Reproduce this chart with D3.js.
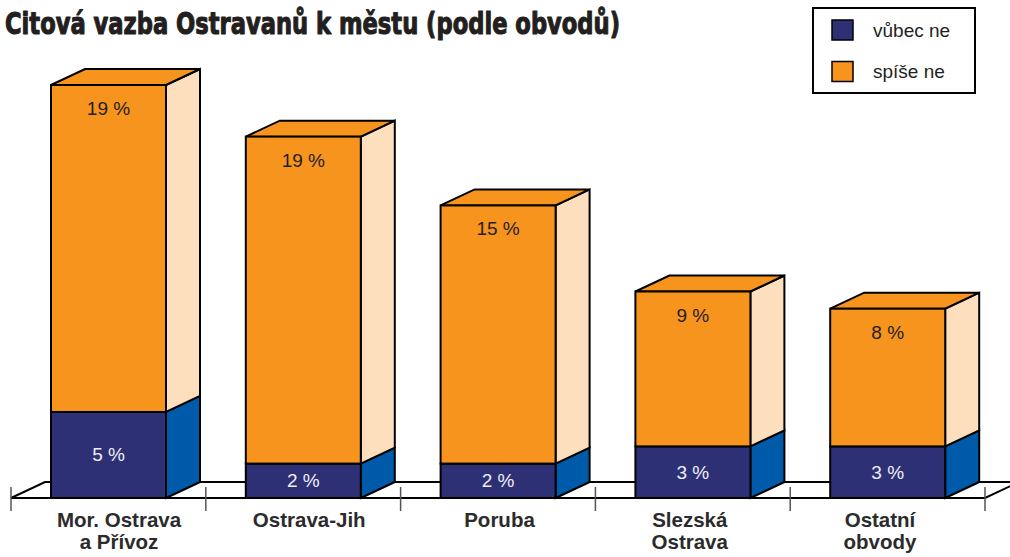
<!DOCTYPE html>
<html><head><meta charset="utf-8">
<script src="https://cdn.jsdelivr.net/npm/d3@7"></script>
<style>body{margin:0;background:#fff}svg{display:block}</style>
</head><body><svg width="1010" height="557"></svg>
<script>
const categories = ["Mor. Ostrava a Přívoz","Ostrava-Jih","Poruba","Slezská Ostrava","Ostatní obvody"];
const categoryLines = [["Mor. Ostrava","a Přívoz"],["Ostrava-Jih"],["Poruba"],["Slezská","Ostrava"],["Ostatní","obvody"]];
const seriesNames = ["vůbec ne","spíše ne"];
const vubecNe = [5,2,2,3,3];
const spiseNe = [19,19,15,9,8];
const titleText = "Citová vazba Ostravanů k městu (podle obvodů)";

const svg = d3.select("svg");
const dx = 34, dy = 16;
const barOffset = 40, barW = 115;
const colors = {
  navyFront: "#2E3076", navySide: "#005AAA",
  orangeFront: "#F7941E", orangeSide: "#FDDFBE", orangeTop: "#F7941E"
};

const x = d3.scaleBand().domain(categories).range([11, 985]).paddingInner(0).paddingOuter(0);
const y = d3.scaleLinear().domain([0, 24]).range([498, 85]);
const xl = d3.scalePoint().domain(categories).range([119, 880]);

// title
svg.append("text").attr("x", 5).attr("y", 34)
  .attr("font-family", "'Liberation Sans Narrow','DejaVu Sans Condensed',sans-serif")
  .attr("font-weight", "bold").attr("font-size", 31)
  .attr("fill", "#231f20").attr("stroke", "#231f20").attr("stroke-width", 1.1)
  .attr("stroke-linejoin", "round")
  .attr("textLength", 615).attr("lengthAdjust", "spacingAndGlyphs")
  .text(titleText);

// floor
const fx0 = x.range()[0], fx1 = x.range()[1], fy = y(0);
const floor = svg.append("g").attr("fill", "none").attr("stroke", "#000").attr("stroke-width", 2);
floor.append("path").attr("d", `M${fx0},${fy}L${fx0+dx},${fy-dy}L${fx1+dx},${fy-dy}`);
floor.append("path").attr("d", `M${fx0},${fy}L${fx1},${fy}L${fx1+dx},${fy-dy}`);
// ticks
const tickXs = categories.map(c => x(c)).concat([fx1]);
svg.append("g").selectAll("line").data(tickXs).join("line")
  .attr("x1", d => d).attr("x2", d => d).attr("y1", 487).attr("y2", 511)
  .attr("stroke", "#555").attr("stroke-width", 1.5);

// bars
function box(g, x0, yTop, yBot, front, side, top) {
  const s = sel => sel.attr("stroke", "#000").attr("stroke-width", 2).attr("stroke-linejoin", "miter");
  s(g.append("path").attr("fill", side)
    .attr("d", `M${x0+barW},${yBot}L${x0+barW+dx},${yBot-dy}L${x0+barW+dx},${yTop-dy}L${x0+barW},${yTop}Z`));
  if (top) s(g.append("path").attr("fill", top)
    .attr("d", `M${x0},${yTop}L${x0+dx},${yTop-dy}L${x0+barW+dx},${yTop-dy}L${x0+barW},${yTop}Z`));
  s(g.append("rect").attr("x", x0).attr("y", yTop).attr("width", barW).attr("height", yBot - yTop).attr("fill", front));
}

const bars = svg.append("g");
categories.forEach((c, i) => {
  const g = bars.append("g");
  const x0 = x(c) + barOffset;
  const v1 = vubecNe[i], v2 = spiseNe[i];
  box(g, x0, y(v1), y(0), colors.navyFront, colors.navySide, null);
  box(g, x0, y(v1 + v2), y(v1), colors.orangeFront, colors.orangeSide, colors.orangeTop);
  const cx = x0 + barW / 2;
  g.append("text").attr("x", cx).attr("y", (y(v1) + y(0)) / 2 + 6.5)
    .attr("text-anchor", "middle").attr("font-family", "'Liberation Sans',Arial,sans-serif")
    .attr("font-size", 19).attr("fill", "#eeeef5").text(`${v1} %`);
  g.append("text").attr("x", cx).attr("y", y(v1 + v2) + 30)
    .attr("text-anchor", "middle").attr("font-family", "'Liberation Sans',Arial,sans-serif")
    .attr("font-size", 19).attr("fill", "#231f20").text(`${v2} %`);
});

// category labels
const lab = svg.append("g").attr("font-family", "'Liberation Sans',Arial,sans-serif")
  .attr("font-weight", "bold").attr("font-size", 20.5).attr("fill", "#2b2b2b").attr("text-anchor", "middle");
categories.forEach((c, i) => {
  const t = lab.append("text").attr("x", xl(c)).attr("y", 527);
  categoryLines[i].forEach((ln, j) => t.append("tspan").attr("x", xl(c)).attr("dy", j === 0 ? 0 : 22).text(ln));
});

// legend
const lg = svg.append("g");
lg.append("rect").attr("x", 813).attr("y", 8).attr("width", 162).attr("height", 85)
  .attr("fill", "#fff").attr("stroke", "#000").attr("stroke-width", 2);
const legColors = [colors.navyFront, colors.orangeFront];
seriesNames.forEach((n, i) => {
  const yy = 20 + i * 41.5;
  lg.append("rect").attr("x", 832).attr("y", yy).attr("width", 21).attr("height", 20)
    .attr("fill", legColors[i]).attr("stroke", "#000").attr("stroke-width", 1.5);
  lg.append("text").attr("x", 873).attr("y", yy + 16.5)
    .attr("font-family", "'Liberation Sans',Arial,sans-serif").attr("font-size", 19)
    .attr("fill", "#231f20").text(n);
});
</script></body></html>
